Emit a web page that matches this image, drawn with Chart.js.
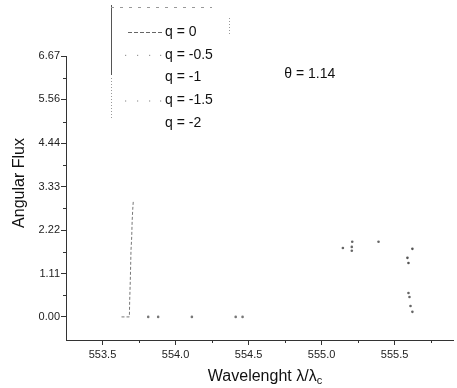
<!DOCTYPE html>
<html>
<head>
<meta charset="utf-8">
<script src="https://cdn.jsdelivr.net/npm/chart.js@4/dist/chart.umd.min.js"></script>
<style>
  html, body { margin: 0; padding: 0; background: #fff; }
</style>
</head>
<body>
<canvas id="grafica" width="457" height="388"></canvas>
<script>
// series labels and tick values
const etiquetas = ["q = 0", "q = -0.5", "q = -1", "q = -1.5", "q = -2"];
const ticksX = [553.5, 554.0, 554.5, 555.0, 555.5];
const menoresX = [553.75, 554.25, 554.75, 555.25, 555.75];
const ticksY = [0, 1.11, 2.22, 3.33, 4.44, 5.56, 6.67];
const menoresY = [0.555, 1.665, 2.775, 3.885, 4.995, 6.115];

// values [wavelength, flux]
const q0 = [[553.63, 0], [553.684, 0], [553.686, 0.4], [553.69, 0.9], [553.693, 1.35],
            [553.695, 1.7], [553.70, 2.05], [553.703, 2.45], [553.707, 2.75], [553.711, 2.97]];
const q05 = [[553.813, 0], [553.881, 0], [554.112, 0], [554.412, 0], [554.459, 0]];
const q1 = [[555.146, 1.76], [555.207, 1.79], [555.21, 1.92], [555.207, 1.69], [555.39, 1.92]];
const q15 = [[555.622, 1.74], [555.588, 1.51], [555.595, 1.38]];
const q2 = [[555.595, 0.61], [555.602, 0.51], [555.609, 0.28], [555.622, 0.13]];
const theta = "θ = 1.14";

const aPuntos = arr => arr.map(([x, y]) => ({ x, y }));

const serieLinea = {
  label: etiquetas[0],
  data: aPuntos(q0),
  showLine: true,
  borderColor: "#777",
  borderWidth: 1,
  borderDash: [3, 2],
  pointRadius: 0,
  muestra: "dash",
};
const puntos = (label, arr, color, muestra) => ({
  label,
  data: aPuntos(arr),
  showLine: false,
  pointRadius: 1.3,
  pointBorderWidth: 0,
  backgroundColor: color,
  muestra,
});

// legend, frame, annotation, minor ticks and axis titles
const extras = {
  id: "extras",
  afterDraw(chart) {
    const ctx = chart.ctx;
    const x = chart.scales.x, y = chart.scales.y;
    const area = chart.chartArea;
    ctx.save();

    // minor ticks
    ctx.strokeStyle = "#333";
    ctx.lineWidth = 1;
    ctx.beginPath();
    menoresX.forEach(v => {
      const px = Math.round(x.getPixelForValue(v)) + 0.5;
      ctx.moveTo(px, area.bottom); ctx.lineTo(px, area.bottom + 3);
    });
    menoresY.forEach(v => {
      const py = Math.round(y.getPixelForValue(v)) + 0.5;
      ctx.moveTo(area.left, py); ctx.lineTo(area.left - 3, py);
    });
    ctx.stroke();

    // faint legend frame
    ctx.strokeStyle = "#555";
    ctx.beginPath();
    ctx.moveTo(111.5, 5); ctx.lineTo(111.5, 75);
    ctx.stroke();
    ctx.strokeStyle = "#999";
    ctx.setLineDash([1, 2]);
    ctx.beginPath();
    ctx.moveTo(111.5, 78); ctx.lineTo(111.5, 118);
    ctx.moveTo(229.5, 18); ctx.lineTo(229.5, 36);
    ctx.stroke();
    ctx.setLineDash([3, 6]);
    ctx.beginPath();
    ctx.moveTo(111, 7.5); ctx.lineTo(212, 7.5);
    ctx.stroke();
    ctx.setLineDash([]);

    // legend entries
    ctx.font = "14px Arial, 'Liberation Sans', sans-serif";
    ctx.fillStyle = "#111";
    ctx.textBaseline = "middle";
    ctx.textAlign = "left";
    chart.data.datasets.forEach((ds, i) => {
      const cy = 32 + i * 22.8;
      if (ds.muestra === "dash") {
        ctx.strokeStyle = "#666";
        ctx.setLineDash([4, 2]);
        ctx.beginPath();
        ctx.moveTo(128, cy + 0.5); ctx.lineTo(162, cy + 0.5);
        ctx.stroke();
        ctx.setLineDash([]);
      } else if (ds.muestra === "dots") {
        ctx.fillStyle = "#999";
        [125, 137, 149, 160].forEach(px => ctx.fillRect(px, cy, 1.2, 1.2));
        ctx.fillStyle = "#111";
      }
      ctx.fillText(ds.label, 165, cy);
    });

    // annotation
    ctx.fillText(theta, x.getPixelForValue(554.745), y.getPixelForValue(6.21));

    // y title
    ctx.font = "16px Arial, 'Liberation Sans', sans-serif";
    ctx.textAlign = "center";
    ctx.save();
    ctx.translate(20, 183);
    ctx.rotate(-Math.PI / 2);
    ctx.fillText("Angular Flux", 0, 0);
    ctx.restore();

    // x title with subscript
    const base = "Wavelenght λ/λ";
    const w = ctx.measureText(base).width;
    ctx.font = "11px Arial, 'Liberation Sans', sans-serif";
    const ws = ctx.measureText("c").width;
    const x0 = 265 - (w + ws) / 2;
    ctx.textAlign = "left";
    ctx.fillText("c", x0 + w, 381);
    ctx.font = "16px Arial, 'Liberation Sans', sans-serif";
    ctx.fillText(base, x0, 377);

    ctx.restore();
  },
};

new Chart(document.querySelector("#grafica"), {
  type: "scatter",
  data: {
    datasets: [
      serieLinea,
      puntos(etiquetas[1], q05, "#777", "dots"),
      puntos(etiquetas[2], q1, "#666", "none"),
      puntos(etiquetas[3], q15, "#555", "dots"),
      puntos(etiquetas[4], q2, "#666", "none"),
    ],
  },
  options: {
    responsive: false,
    animation: false,
    layout: { padding: { top: 56, right: 0, left: 0, bottom: 0 } },
    plugins: {
      legend: { display: false },
      tooltip: { enabled: false },
    },
    scales: {
      x: {
        type: "linear",
        min: 553.25,
        max: 555.9,
        afterBuildTicks: s => { s.ticks = ticksX.map(value => ({ value })); },
        afterFit: s => { s.height = 48; },
        ticks: {
          color: "#222",
          font: { size: 11, family: "Arial" },
          padding: 3,
          maxRotation: 0,
          callback: v => v.toFixed(1),
        },
        grid: { drawOnChartArea: false, tickLength: 5, color: "#333" },
        border: { color: "#333", width: 1 },
      },
      y: {
        min: -0.59,
        max: 6.67,
        afterBuildTicks: s => { s.ticks = ticksY.map(value => ({ value })); },
        afterFit: s => { s.width = 66; },
        ticks: {
          color: "#222",
          font: { size: 11, family: "Arial" },
          padding: 1,
          callback: v => v.toFixed(2),
        },
        grid: { drawOnChartArea: false, tickLength: 5, color: "#333" },
        border: { color: "#333", width: 1 },
      },
    },
  },
  plugins: [extras],
});
</script>
</body>
</html>
